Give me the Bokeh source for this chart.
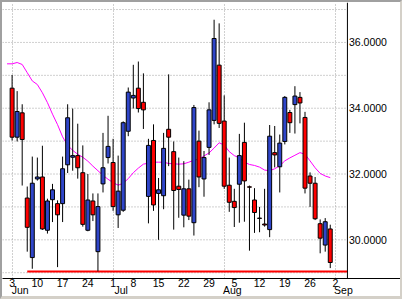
from bokeh.plotting import figure
from bokeh.models import ColumnDataSource, FixedTicker, LinearAxis, Range1d, Span
from bokeh.core.properties import value
from bokeh.embed import file_html
from bokeh.resources import INLINE

# ---- data (trading-day index 0 = 3 Jun) ----
opens  = [34.61, 33.12, 33.86, 31.27, 29.46, 31.85, 31.91, 30.29, 31.22, 31.10,
          31.10, 32.28, 32.51, 32.56, 32.04, 30.29, 31.18, 29.64, 31.70, 32.50,
          32.35, 30.76, 30.90, 33.30, 34.31, 34.61, 34.18, 31.32, 33.02, 31.41,
          31.34, 33.36, 32.68, 31.63, 30.75, 31.55, 30.52, 33.00, 31.85, 32.81,
          33.63, 35.31, 33.61, 31.66, 31.17, 31.69, 32.96, 31.61, 31.21, 30.66,
          30.48, 30.31, 32.65, 32.22, 32.99, 33.87, 34.11, 34.33, 33.72, 31.94,
          31.72, 30.49, 29.84, 30.33]
highs  = [35.01, 34.52, 34.12, 31.62, 32.53, 32.50, 32.86, 31.25, 31.70, 31.20,
          32.53, 34.12, 33.99, 33.53, 32.87, 32.00, 31.41, 31.41, 33.25, 33.77,
          33.07, 32.56, 33.60, 34.63, 35.32, 35.42, 35.06, 33.07, 33.51, 31.88,
          33.25, 35.03, 32.99, 32.50, 32.39, 31.83, 34.10, 33.32, 32.70, 34.18,
          36.69, 36.58, 34.39, 32.50, 31.55, 33.22, 33.56, 31.65, 31.57, 31.00,
          31.55, 33.49, 33.46, 33.20, 34.37, 33.95, 34.67, 34.49, 33.89, 32.05,
          31.91, 30.62, 30.66, 30.46]
lows   = [33.02, 32.99, 31.65, 29.64, 29.12, 31.80, 30.30, 30.19, 30.54, 29.17,
          30.54, 32.03, 32.10, 31.86, 30.40, 30.26, 30.57, 29.04, 31.44, 32.32,
          30.88, 30.36, 30.85, 33.15, 33.99, 33.87, 33.37, 30.50, 30.88, 30.00,
          30.93, 32.24, 30.31, 30.67, 30.38, 30.60, 30.13, 31.60, 31.31, 32.58,
          33.51, 33.40, 31.55, 30.85, 30.39, 30.52, 30.55, 29.67, 30.21, 30.23,
          30.40, 30.08, 32.20, 31.44, 32.90, 33.25, 33.23, 33.54, 31.41, 31.00,
          30.60, 29.59, 29.64, 29.14]
closes = [33.12, 33.90, 33.05, 30.38, 31.72, 31.91, 30.33, 31.18, 31.52, 30.76,
          32.16, 33.71, 32.56, 32.19, 30.47, 31.21, 30.76, 31.01, 32.19, 32.84,
          31.01, 31.48, 33.56, 34.49, 34.39, 33.99, 33.95, 32.87, 31.06, 31.52,
          32.78, 33.12, 31.50, 31.53, 31.55, 30.72, 34.02, 31.91, 32.50, 33.95,
          36.12, 33.54, 31.63, 31.14, 30.98, 32.56, 31.79, 31.60, 30.83, 30.65,
          30.45, 33.15, 32.58, 32.94, 34.33, 33.56, 34.37, 34.16, 31.57, 31.72,
          30.64, 30.05, 30.55, 29.31]

ma_start = -1
ma_vals = [35.35, 35.35, 35.39, 35.33, 35.08, 34.83, 34.72, 34.47, 34.17, 33.82,
           33.50, 33.13, 32.87, 32.72, 32.60, 32.51, 32.39, 32.24, 32.10, 31.96,
           31.84, 31.74, 31.66, 31.72, 31.86, 32.04, 32.18, 32.30, 32.33, 32.36,
           32.36, 32.36, 32.32, 32.31, 32.30, 32.31, 32.36, 32.42, 32.45, 32.55,
           32.64, 32.79, 32.95, 32.88, 32.68, 32.56, 32.49, 32.36, 32.29, 32.26,
           32.21, 32.12, 32.10, 32.16, 32.25, 32.40, 32.49, 32.57, 32.65, 32.60,
           32.40, 32.19, 32.02, 31.94, 31.89]

week_ticks  = [0, 5, 10, 15, 20, 24, 29, 34, 39, 44, 49, 54, 59, 64]
week_labels = ["3", "10", "17", "24", "1", "8", "15", "22", "29", "5", "12", "19", "26", "2"]
month_starts = [0, 20, 42, 64]
month_labels = ["Jun", "Jul", "Aug", "Sep"]
y_ticks  = [30, 32, 34, 36]
y_labels = ["30.0000", "32.0000", "34.0000", "36.0000"]
grid_levels = [29, 30, 31, 32, 33, 34, 35, 36, 37]
support_start = 3

UP = "#2f45c9"
DOWN = "#ff0000"
FONT = "Liberation Sans"
FSIZE = "10.5px"
GRID = "#a0a0a0"

n = len(opens)
xs = list(range(n))
src = ColumnDataSource(dict(
    x=xs, low=lows, high=highs,
    top=[max(o, c) for o, c in zip(opens, closes)],
    bottom=[min(o, c) for o, c in zip(opens, closes)],
    color=[UP if c >= o else DOWN for o, c in zip(opens, closes)],
))

# layout constants (index units: 5 px per trading day)
x0 = -1.9          # left edge of the plot frame
x1 = 77.7          # frame runs under the price-label column
axis_x = 66.4      # position of the vertical price axis
y0, y1 = 28.824, 37.214

p = figure(width=398, height=294, x_range=Range1d(x0, x1), y_range=Range1d(y0, y1),
           y_axis_location=None, output_backend="svg", toolbar_location=None,
           min_border_left=0, min_border_top=0, min_border_right=0, min_border_bottom=23,
           background_fill_color="white", border_fill_color="white", outline_line_color=None)
p.styles = {"box-sizing": "content-box", "border-style": "solid",
            "border-width": "2px 2px 3px 2px",
            "border-color": "#a0a0a0 #d4d0c8 #d4d0c8 #a0a0a0"}

# grids
p.xgrid.ticker = FixedTicker(ticks=month_starts)
p.xgrid.grid_line_color = GRID
p.xgrid.grid_line_dash = "1 2"
p.ygrid.visible = False
p.segment(x0=[x0] * len(grid_levels), y0=grid_levels, x1=[axis_x] * len(grid_levels), y1=grid_levels,
          line_color=GRID, line_width=1, line_dash="1 2")

# support line
support_level = min(lows)
p.segment(x0=[support_start], y0=[support_level], x1=[axis_x], y1=[support_level],
          line_color=DOWN, line_width=2)

# moving average
p.line(x=list(range(ma_start, ma_start + len(ma_vals))), y=ma_vals, line_color="#ff00ff", line_width=1)

# candles
p.segment(x0="x", y0="low", x1="x", y1="high", source=src, line_color="black", line_width=1)
p.vbar(x="x", width=0.78, top="top", bottom="bottom", source=src,
       fill_color="color", line_color="black", line_width=1)

# price axis (line + labels)
p.add_layout(Span(location=axis_x, dimension="height", line_color="black", line_width=1))
p.text(x=[axis_x + 0.3] * len(y_ticks), y=y_ticks, text=y_labels,
       text_font=value(FONT), text_font_size=FSIZE, text_color="black",
       text_align="left", text_baseline="middle")

# date axes
xa = p.xaxis[0]
xa.ticker = FixedTicker(ticks=week_ticks)
xa.major_label_overrides = {t: l for t, l in zip(week_ticks, week_labels)}
xa.major_tick_in = 0
xa.major_tick_out = 0
xa.minor_tick_line_color = None
xa.major_label_standoff = 0
xa.axis_line_color = "black"

p.extra_x_ranges = {"month": Range1d(x0 - 1.6, x1 - 1.6)}
ma_axis = LinearAxis(x_range_name="month", ticker=FixedTicker(ticks=month_starts),
                     major_label_overrides={t: l for t, l in zip(month_starts, month_labels)})
ma_axis.axis_line_color = None
ma_axis.major_tick_line_color = None
ma_axis.minor_tick_line_color = None
ma_axis.major_label_standoff = -12
p.add_layout(ma_axis, "below")

for ax in (xa, ma_axis):
    ax.major_label_text_font = FONT
    ax.major_label_text_font_size = FSIZE
    ax.major_label_text_color = "black"

open("out.html", "w").write(file_html(p, INLINE))
